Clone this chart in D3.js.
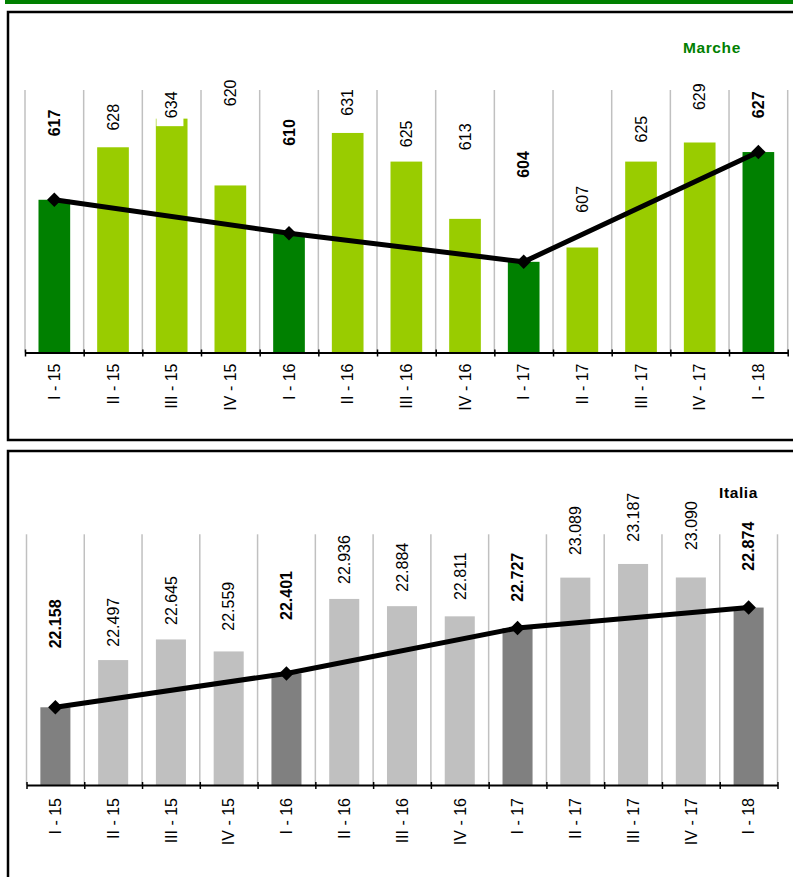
<!DOCTYPE html>
<html lang="it">
<head>
<meta charset="utf-8">
<title>Marche / Italia</title>
<script src="https://d3js.org/d3.v7.min.js"></script>
<style>
  body { margin: 0; background: #fff; }
  svg { display: block; font-family: "Liberation Sans", Arial, sans-serif; }
  .grid line { stroke: #c0c0c0; stroke-width: 1.5; }
  .axis path { stroke: #000; stroke-width: 2; }
  .axis line { stroke: #000; stroke-width: 1.5; }
</style>
</head>
<body>
<script>
// categories (quarters)
var quarters = ["I - 15", "II - 15", "III - 15", "IV - 15", "I - 16", "II - 16", "III - 16",
                "IV - 16", "I - 17", "II - 17", "III - 17", "IV - 17", "I - 18"];

// Marche values
var marcheValues = [617, 628, 634, 620, 610, 631, 625, 613, 604, 607, 625, 629, 627];
// where each Marche label sits (value units)
var marcheLabelAt = [630.3, 631.5, 634.1, 636.6, 628.3, 634.6, 628.0, 627.4, 621.6, 614.3, 629.0, 635.8, 634.1];

// Italia values
var italiaValues = [22158, 22497, 22645, 22559, 22401, 22936, 22884, 22811, 22727, 23089, 23187, 23090, 22874];
var italiaLabelAt = [22581, 22593, 22749, 22708, 22785, 23043, 22988, 22928, 22916, 23251, 23347, 23287, 23139];

var w = 793, h = 877;
var it = d3.formatLocale({decimal: ",", thousands: ".", grouping: [3], currency: ["€", ""]});
var fmt = it.format(",d");

var svg = d3.select("body").append("svg").attr("width", w).attr("height", h);

// green title band (cut off at the top)
svg.append("rect").attr("x", 5).attr("y", 0).attr("width", w - 5).attr("height", 4).attr("fill", "#008000");

// panel frames
svg.append("rect").attr("x", 8).attr("y", 12).attr("width", 820).attr("height", 428)
   .attr("fill", "none").attr("stroke", "#000").attr("stroke-width", 2.5);
svg.append("rect").attr("x", 8).attr("y", 451).attr("width", 820).attr("height", 500)
   .attr("fill", "none").attr("stroke", "#000").attr("stroke-width", 2.5);

function isFirst(q) { return q.indexOf("I -") === 0; }

function drawPanel(o) {
  var g = svg.append("g");
  var x = d3.scaleBand().domain(quarters).range(o.xRange).padding(0);
  var idx = d3.scaleLinear().domain([0, quarters.length]).range(o.xRange);
  var y = d3.scaleLinear().domain(o.yDomain).range(o.yRange);
  var base = o.yRange[0], top = o.yRange[1];
  var bw = x.bandwidth() * o.barRatio;

  // vertical gridlines at category boundaries
  g.append("g").attr("class", "grid").selectAll("line")
    .data(d3.range(quarters.length + 1)).enter().append("line")
    .attr("x1", function(d) { return idx(d); }).attr("x2", function(d) { return idx(d); })
    .attr("y1", top).attr("y2", base);

  // bars
  g.append("g").selectAll("rect").data(o.values).enter().append("rect")
    .attr("x", function(d, i) { return x(quarters[i]) + (x.bandwidth() - bw) / 2; })
    .attr("y", function(d) { return y(d); })
    .attr("width", bw)
    .attr("height", function(d) { return base - y(d); })
    .attr("fill", function(d, i) { return isFirst(quarters[i]) ? o.dark : o.light; });

  // axis
  var axis = d3.axisBottom(idx).tickValues(d3.range(quarters.length + 1)).tickFormat("").tickSizeOuter(0);
  g.append("g").attr("class", "axis").attr("transform", "translate(0," + base + ")").call(axis)
    .call(function(a) { a.selectAll(".tick line").attr("y1", -3).attr("y2", 4); });

  // category labels
  g.append("g").selectAll("text").data(quarters).enter().append("text")
    .attr("transform", function(d) { return "translate(" + (x(d) + x.bandwidth() / 2) + "," + (base + o.catGap) + ") rotate(-90)"; })
    .attr("text-anchor", "end").attr("dy", "0.36em")
    .style("font-size", "16px").attr("fill", "#000")
    .text(function(d) { return d; });

  // value labels (white box behind, like the spreadsheet labels)
  var lab = g.append("g").selectAll("g").data(o.values).enter().append("g")
    .attr("transform", function(d, i) { return "translate(" + (x(quarters[i]) + x.bandwidth() / 2) + "," + y(o.labelAt[i]) + ") rotate(-90)"; });
  lab.append("text")
    .attr("dy", "0.36em")
    .style("font-size", "16px")
    .style("font-weight", function(d, i) { return isFirst(quarters[i]) ? "bold" : "normal"; })
    .attr("fill", "#000")
    .text(function(d) { return o.format(d); });
  lab.each(function() {
    var t = d3.select(this).select("text");
    var bb = t.node().getBBox();
    d3.select(this).insert("rect", "text")
      .attr("x", bb.x - 8).attr("y", bb.y - 7)
      .attr("width", bb.width + 16).attr("height", bb.height + 10)
      .attr("fill", "#fff");
  });

  // line through first quarters
  var pts = [];
  quarters.forEach(function(q, i) { if (isFirst(q)) pts.push([x(q) + x.bandwidth() / 2, y(o.values[i])]); });
  g.append("path").datum(pts)
    .attr("d", d3.line())
    .attr("fill", "none").attr("stroke", "#000").attr("stroke-width", 5);
  g.append("g").selectAll("path").data(pts).enter().append("path")
    .attr("d", d3.symbol().type(d3.symbolSquare).size(105))
    .attr("transform", function(d) { return "translate(" + d[0] + "," + d[1] + ") rotate(45)"; })
    .attr("fill", "#000");

  // panel title
  g.append("text").attr("x", o.titleX).attr("y", o.titleY)
    .style("font-size", "15.5px").style("font-weight", "bold").style("letter-spacing", "0.6px")
    .attr("fill", o.titleColor).text(o.title);
}

drawPanel({
  values: marcheValues, labelAt: marcheLabelAt, format: d3.format("d"),
  xRange: [25, 787.7], yDomain: [585, 640], yRange: [352.5, 90],
  barRatio: 0.54, catGap: 11,
  light: "#99cc00", dark: "#008000",
  title: "Marche", titleColor: "#008000", titleX: 683, titleY: 52.5
});

drawPanel({
  values: italiaValues, labelAt: italiaLabelAt, format: fmt,
  xRange: [26.5, 777.5], yDomain: [21600, 23400], yRange: [785, 534.3],
  barRatio: 0.52, catGap: 13,
  light: "#c0c0c0", dark: "#808080",
  title: "Italia", titleColor: "#000", titleX: 719, titleY: 498
});
</script>
</body>
</html>
